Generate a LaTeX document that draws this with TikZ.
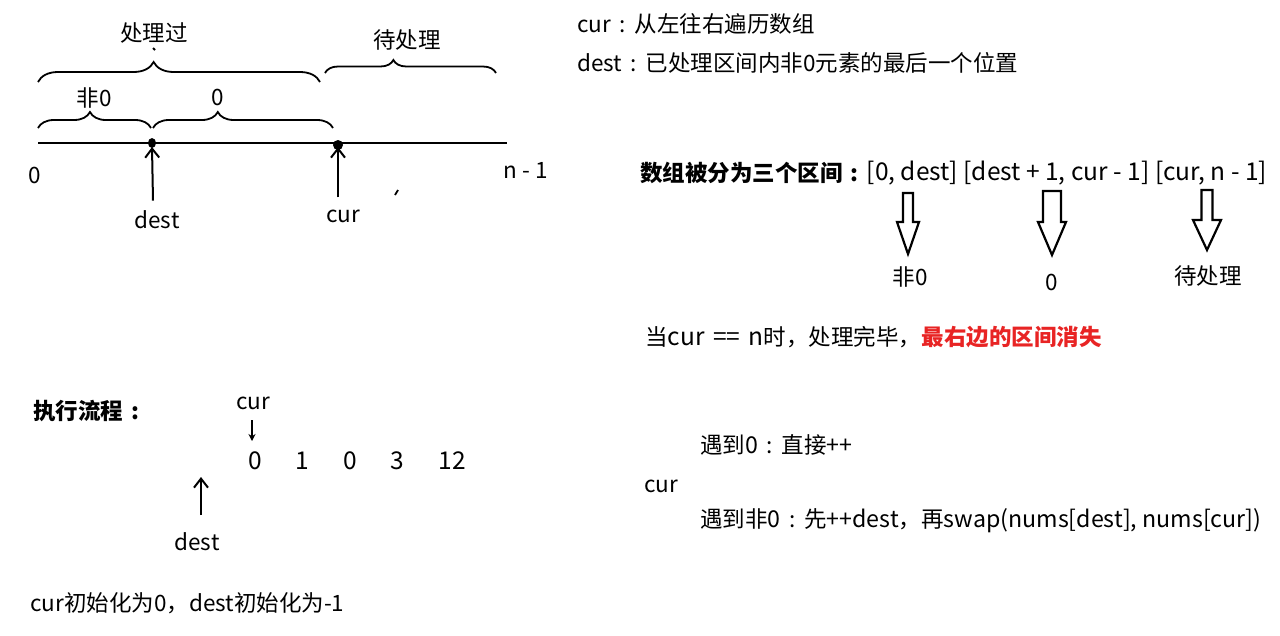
\documentclass[tikz,border=0pt]{standalone}
\usepackage{fontspec}
\setmainfont{Noto Sans CJK SC}
\newcommand\zc{\hbox to 1.05em{\hss:\hss}}
\newcommand\lt[1]{{\fontsize{24.5}{28}\selectfont #1}}
\newcommand\ls[1]{{\fontsize{23.2}{28}\selectfont #1}}
\usetikzlibrary{decorations.pathreplacing,arrows.meta,calc}
\definecolor{hired}{RGB}{232,36,36}
\newcommand\hollowdown[6]{% x, ytop, yhead, ytip, shaft half, head half
  \draw[hollow] (#1-#5,#2) -- (#1+#5,#2) -- (#1+#5,#3) -- (#1+#6,#3) -- (#1,#4) -- (#1-#6,#3) -- (#1-#5,#3) -- cycle;}
\begin{document}
\begin{tikzpicture}[x=1pt,y=-1pt,
  every node/.style={font=\fontsize{22.5}{26}\selectfont, inner sep=0pt},
  txt/.style={anchor=west},
  bld/.style={anchor=west,font=\fontsize{22.5}{26}\selectfont\bfseries},
  brc/.style={line width=1.8pt, decorate},
  axis/.style={line width=2.6pt},
  uparr/.style={line width=2pt, -{Straight Barb[length=9pt,width=14pt,line width=2pt]}},
  smallarr/.style={line width=1.8pt, -{Stealth[length=7pt,width=7pt]}},
  hollow/.style={line width=2.2pt, line join=miter, fill=white}]
\useasboundingbox (0,0) rectangle (1280,635);

% ---------- number line ----------
\coordinate (lstart) at (38,143);
\coordinate (lend) at (507,143);
\draw[axis] (lstart) -- (lend);
\coordinate (dotd) at (152,143);
\coordinate (dotc) at (338,145);
\fill (dotd) ellipse (4pt and 5pt);
\fill (dotc) circle (5pt);
\node (zero) at (35,175) {0};
\node (nm1) at (526,170) {n - 1};
\node (destl) at (157,220) {dest};
\node (curl) at (343,216) {cur};
\draw[uparr] ($(destl.north)+(-4,-10)$) -- ($(dotd)+(0,4)$);
\draw[uparr] ($(curl.north)+(-5,-12)$) -- ($(dotc)+(0,2)$);
\draw[line width=1.8pt] (395,195) -- (398,190);

% ---------- braces ----------
\draw[brc, decoration={brace, amplitude=16pt, aspect=0.46}] (38,128) -- (151,128);
\draw[brc, decoration={brace, amplitude=16pt, aspect=0.36}] (153,128) -- (333,128);
\draw[brc, decoration={brace, amplitude=20pt, aspect=0.41}] (38,82) -- (320,82);
\draw[brc, decoration={brace, amplitude=13pt, aspect=0.40}] (325,73) -- (496,73);
\draw[line width=1.8pt] (153,48) -- (155,50);
\node (nz1) at (94,98) {非0};
\node (z1) at (218,97) {0};
\node (done) at (154,33) {处理过};
\node (todo) at (407,40) {待处理};

% ---------- top right ----------
\node[txt] (t1) at (577,24) {cur\zc 从左往右遍历数组};
\node[txt] (t2) at (577,63) {dest\zc 已处理区间内非0元素的最后一个位置};

\node[bld] (head) at (640,173) {数组被分为三个区间\zc};
\node[txt] (ranges) at (head.east) {\lt{[0, dest] [dest + 1, cur - 1] [cur, n - 1]}};

\hollowdown{908}{193}{222}{254}{5}{11}
\hollowdown{1052}{191}{222}{255}{9}{14}
\hollowdown{1207}{190}{220}{250}{5.5}{14}
\node (r1) at (910,277) {非0};
\node (r2) at (1052,282) {0};
\node (r3) at (1208,276) {待处理};

\node[txt] (fin) at (645,337) {当\lt{cur\hspace{3pt} == \hspace{3pt}n}时，处理完毕，};
\node[bld, text=hired] (fin2) at (fin.east) {最右边的区间消失};

% ---------- bottom left ----------
\node[bld] (flow) at (33,411) {执行流程\zc};
\node (curb) at (253,403) {cur};
\draw[smallarr] (252,420) -- (252,441);
\node (a0) at (255,461) {\lt{0}};
\node (a1) at (302,461) {\lt{1}};
\node (a2) at (350,461) {\lt{0}};
\node (a3) at (397,461) {\lt{3}};
\node (a4) at (452,461) {\lt{12}};
\node (destb) at (197,542) {dest};
\draw[uparr] (201,515) -- (201,477);
\node[txt] (init) at (30,603) {cur初始化为0，dest初始化为-1};

% ---------- bottom right ----------
\node[txt] (s1) at (700,445) {遇到\ls{0}\zc 直接\ls{++}};
\node[txt] (s0) at (644,486) {cur};
\node[txt] (s2) at (700,521) {遇到非\ls{0}\zc 先\ls{++dest}，再\ls{swap(nums[dest], nums[cur])}};
\end{tikzpicture}
\end{document}
